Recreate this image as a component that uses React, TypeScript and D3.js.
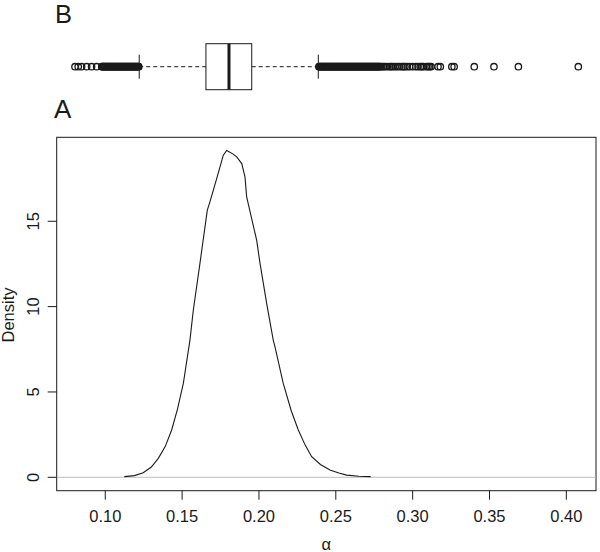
import React from "react";
import * as d3 from "d3";

// Density curve (panel A)
const densityX = [0.1124, 0.1190, 0.1247, 0.1300, 0.1345, 0.1390, 0.1432, 0.1470, 0.1508, 0.1551, 0.1573, 0.1616, 0.1664, 0.1681, 0.1725, 0.1768, 0.1790, 0.1830, 0.1855, 0.1888, 0.1909, 0.1920, 0.1985, 0.2007, 0.2050, 0.2093, 0.2104, 0.2158, 0.2210, 0.2256, 0.2300, 0.2343, 0.2400, 0.2462, 0.2520, 0.2571, 0.2650, 0.2727];
const densityY = [0.04, 0.10, 0.27, 0.6, 1.11, 1.8, 2.77, 4.0, 5.5, 8.04, 9.8, 12.53, 15.65, 16.14, 17.5, 18.87, 19.15, 18.95, 18.77, 18.38, 17.6, 16.43, 13.89, 12.53, 10.19, 8.04, 7.65, 5.5, 3.9, 2.77, 1.9, 1.21, 0.75, 0.43, 0.25, 0.13, 0.06, 0.04];

// Box plot statistics (panel B)
const boxStats = { lowerWhisker: 0.1221, q1: 0.1655, median: 0.1805, q3: 0.1953, upperWhisker: 0.2386 };
const lowOutliers = [0.0803, 0.0824, 0.0846, 0.0879, 0.0911, 0.0944, 0.0977, 0.0980, 0.0985, 0.0990, 0.0995, 0.1000, 0.1005, 0.1010, 0.1015, 0.1020, 0.1025, 0.1030, 0.1035, 0.1040, 0.1045, 0.1050, 0.1055, 0.1060, 0.1065, 0.1070, 0.1075, 0.1080, 0.1085, 0.1090, 0.1095, 0.1100, 0.1105, 0.1110, 0.1115, 0.1120, 0.1125, 0.1130, 0.1135, 0.1140, 0.1145, 0.1150, 0.1155, 0.1160, 0.1165, 0.1170, 0.1175, 0.1180, 0.1185, 0.1190, 0.1195, 0.1200, 0.1205, 0.1210, 0.1215, 0.1218];
const highOutliers = [0.2390, 0.2395, 0.2400, 0.2405, 0.2410, 0.2415, 0.2420, 0.2425, 0.2430, 0.2435, 0.2440, 0.2445, 0.2450, 0.2455, 0.2460, 0.2465, 0.2470, 0.2475, 0.2480, 0.2485, 0.2490, 0.2495, 0.2500, 0.2505, 0.2510, 0.2515, 0.2520, 0.2525, 0.2530, 0.2535, 0.2540, 0.2545, 0.2550, 0.2555, 0.2560, 0.2565, 0.2570, 0.2575, 0.2580, 0.2585, 0.2590, 0.2595, 0.2600, 0.2605, 0.2610, 0.2615, 0.2620, 0.2625, 0.2630, 0.2635, 0.2640, 0.2645, 0.2650, 0.2655, 0.2660, 0.2665, 0.2670, 0.2675, 0.2680, 0.2685, 0.2690, 0.2695, 0.2700, 0.2705, 0.2710, 0.2715, 0.2720, 0.2725, 0.2730, 0.2735, 0.2740, 0.2745, 0.2750, 0.2755, 0.2760, 0.2765, 0.2770, 0.2775, 0.2780, 0.2785, 0.2790, 0.2800, 0.2810, 0.2820, 0.2835, 0.2850, 0.2860, 0.2870, 0.2885, 0.2900, 0.2915, 0.2930, 0.2940, 0.2950, 0.2965, 0.2980, 0.3000, 0.3020, 0.3035, 0.3050, 0.3060, 0.3070, 0.3090, 0.3100, 0.3110, 0.3120, 0.3165, 0.3180, 0.3255, 0.3270, 0.3401, 0.3529, 0.3688, 0.4078];

const xTicks = [0.10, 0.15, 0.20, 0.25, 0.30, 0.35, 0.40];
const yTicks = [0, 5, 10, 15];

const xDomain = [0.0684, 0.4193];
const yDomain = [-0.785, 19.92];

const FONT = "'Liberation Sans', Arial, sans-serif";

export default function App() {
  const left = 56.7, right = 596, top = 137.3, bottom = 490.7;
  const x = d3.scaleLinear().domain(xDomain).range([left, right]);
  const y = d3.scaleLinear().domain(yDomain).range([bottom, top]);

  const line = d3.line<number>()
    .x((_, i) => x(densityX[i]))
    .y((d) => y(d));

  const by = 66.7;
  const bh = 23;
  const ink = "#1a1a1a";

  return (
    <svg width={600} height={552} style={{ position: "absolute", left: 0, top: 0, background: "#fff" }}>
      {/* Panel labels */}
      <text x={55} y={23} fontFamily={FONT} fontSize={25.5} fill={ink}>B</text>
      <text x={54} y={118.3} fontFamily={FONT} fontSize={26} fill={ink}>A</text>

      {/* Box plot */}
      <g stroke={ink} fill="none">
        <line x1={x(boxStats.lowerWhisker)} x2={x(boxStats.q1)} y1={by} y2={by} strokeDasharray="4,3" />
        <line x1={x(boxStats.q3)} x2={x(boxStats.upperWhisker)} y1={by} y2={by} strokeDasharray="4,3" />
        <line x1={x(boxStats.lowerWhisker)} x2={x(boxStats.lowerWhisker)} y1={by - 12} y2={by + 12} />
        <line x1={x(boxStats.upperWhisker)} x2={x(boxStats.upperWhisker)} y1={by - 12} y2={by + 12} />
        <rect x={x(boxStats.q1)} y={by - bh} width={x(boxStats.q3) - x(boxStats.q1)} height={bh * 2} fill="#fff" />
        <line x1={x(boxStats.median)} x2={x(boxStats.median)} y1={by - bh} y2={by + bh} strokeWidth={3} />
        {lowOutliers.concat(highOutliers).map((v, i) => (
          <circle key={i} cx={x(v)} cy={by} r={3.2} strokeWidth={1.3} />
        ))}
      </g>

      {/* Panel A frame */}
      <rect x={left} y={top} width={right - left} height={bottom - top} fill="none" stroke={ink} strokeWidth={1} />
      <line x1={left} x2={right} y1={y(0)} y2={y(0)} stroke="#bebebe" strokeWidth={1} />
      <path d={line(densityY) || ""} fill="none" stroke={ink} strokeWidth={1.1} />

      {/* X axis */}
      <g stroke={ink}>
        {xTicks.map((t) => (
          <line key={t} x1={x(t)} x2={x(t)} y1={bottom} y2={bottom + 9} />
        ))}
      </g>
      {xTicks.map((t) => (
        <text key={t} x={x(t)} y={521.7} textAnchor="middle" fontFamily={FONT} fontSize={16.5} fill={ink}>
          {t.toFixed(2)}
        </text>
      ))}
      <text x={(left + right) / 2} y={550} textAnchor="middle" fontFamily={FONT} fontSize={16.5} fill={ink}>α</text>

      {/* Y axis */}
      <g stroke={ink}>
        {yTicks.map((t) => (
          <line key={t} x1={left - 9} x2={left} y1={y(t)} y2={y(t)} />
        ))}
      </g>
      {yTicks.map((t) => (
        <text key={t} transform={`translate(39.3,${y(t)}) rotate(-90)`} textAnchor="middle" fontFamily={FONT} fontSize={16.5} fill={ink}>
          {t}
        </text>
      ))}
      <text transform={`translate(14,315) rotate(-90)`} textAnchor="middle" fontFamily={FONT} fontSize={16.5} fill={ink}>Density</text>
    </svg>
  );
}
